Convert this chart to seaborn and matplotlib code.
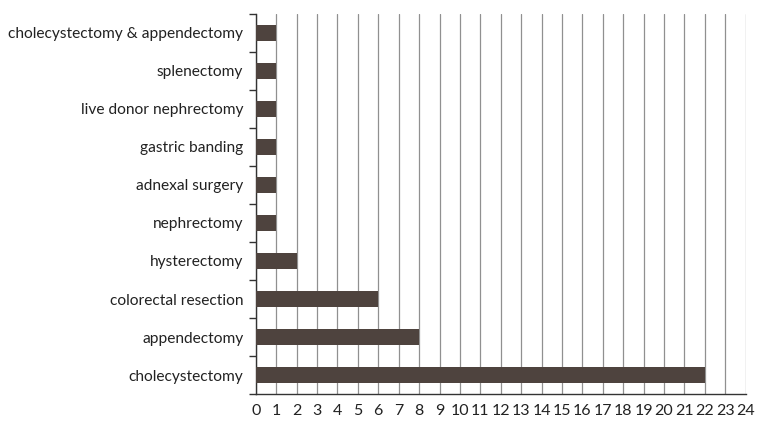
import matplotlib
matplotlib.use("Agg")
import matplotlib.pyplot as plt
import seaborn as sns
import pandas as pd
from matplotlib.ticker import FixedLocator

# data, top to bottom as shown
procedures = [
    "cholecystectomy & appendectomy",
    "splenectomy",
    "live donor nephrectomy",
    "gastric banding",
    "adnexal surgery",
    "nephrectomy",
    "hysterectomy",
    "colorectal resection",
    "appendectomy",
    "cholecystectomy",
]
counts = [1, 1, 1, 1, 1, 1, 2, 6, 8, 22]
x_ticks = list(range(0, 25))

df = pd.DataFrame({"procedure": procedures, "count": counts})

sns.set_style("white")
plt.rcParams["font.family"] = ["Lato", "DejaVu Sans"]

fig = plt.figure(figsize=(7.57, 4.23), dpi=100)
ax = fig.add_axes([0.338, 0.068, 0.647, 0.9])

sns.barplot(data=df, x="count", y="procedure", orient="h", color="#4e433e",
            width=0.42, saturation=1, linewidth=0, ax=ax, zorder=3)

ax.set_xlim(0, 24)
ax.set_ylim(len(procedures) - 0.5, -0.5)
ax.set_xticks(x_ticks)
ax.set_xticklabels([str(t) for t in x_ticks], fontsize=11.5, color="#222222")
ax.tick_params(axis="y", labelsize=11.2, length=0, labelcolor="#222222", pad=9)
ax.tick_params(axis="x", length=5, width=1, color="#333333", pad=2, direction="out")
ax.yaxis.set_minor_locator(FixedLocator([i - 0.5 for i in range(len(procedures) + 1)]))
ax.tick_params(axis="y", which="minor", length=5, width=1, color="#333333", left=True)

ax.grid(axis="x", color="#909090", linewidth=0.9, zorder=0)
ax.set_axisbelow(True)
ax.set_xlabel("")
ax.set_ylabel("")

for side in ["top", "right"]:
    ax.spines[side].set_visible(False)
for side in ["left", "bottom"]:
    ax.spines[side].set_color("#333333")
    ax.spines[side].set_linewidth(1)

fig.savefig("out.png", dpi=100)
